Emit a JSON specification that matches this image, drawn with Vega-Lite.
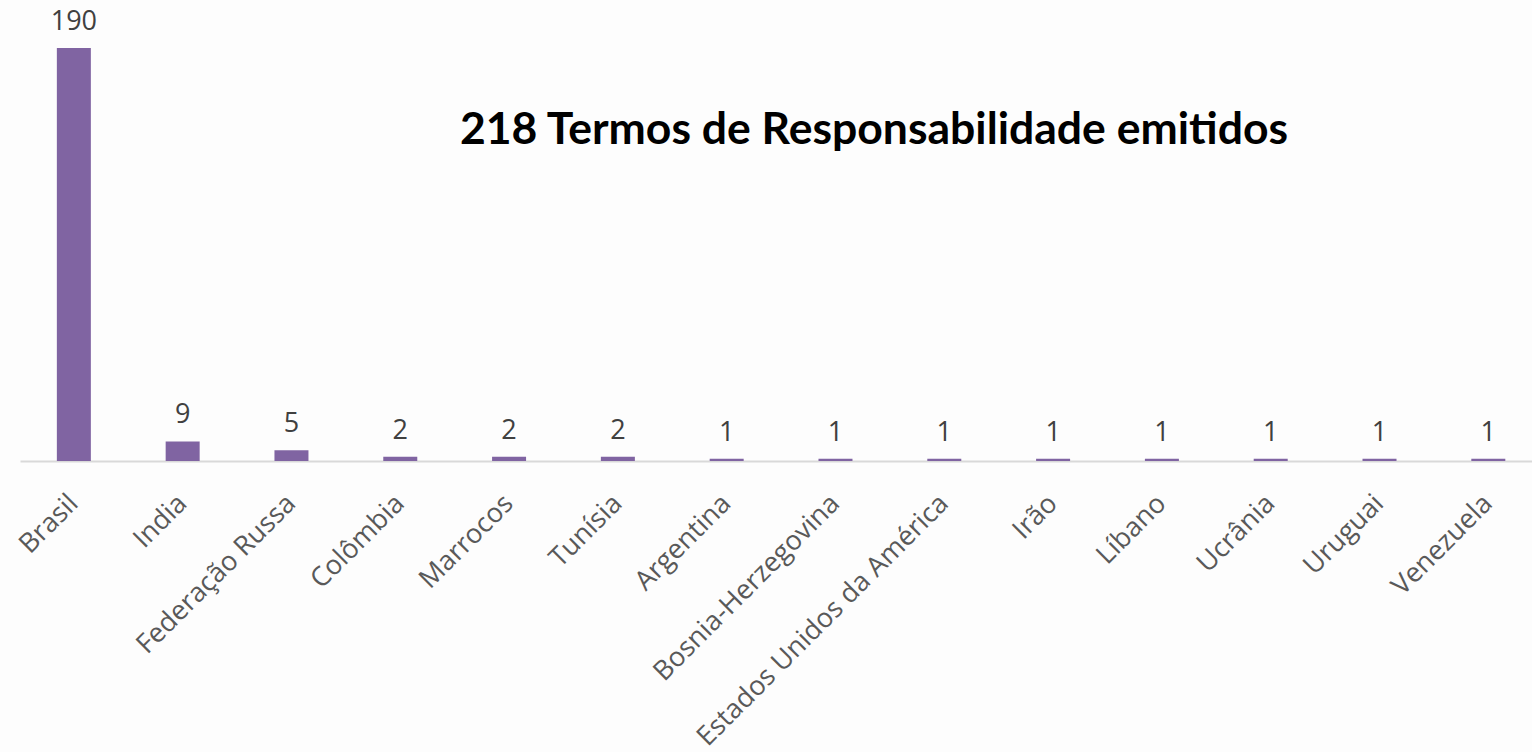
{
  "$schema": "https://vega.github.io/schema/vega-lite/v6.json",
  "width": 1512,
  "height": 413,
  "autosize": {"type": "none"},
  "padding": {"left": 20, "top": 48, "right": 0, "bottom": 291},
  "background": "#fdfdfd",
  "config": {"view": {"stroke": null}},
  "title": {
    "text": "218 Termos de Responsabilidade emitidos",
    "font": "Lato",
    "fontWeight": "bold",
    "fontSize": 44.5,
    "color": "#000000",
    "anchor": "middle",
    "frame": "group",
    "baseline": "middle",
    "offset": 0,
    "dx": 98,
    "dy": 167
  },
  "data": {
    "values": [
      {"pais": "Brasil", "n": 190},
      {"pais": "India", "n": 9},
      {"pais": "Federação Russa", "n": 5},
      {"pais": "Colômbia", "n": 2},
      {"pais": "Marrocos", "n": 2},
      {"pais": "Tunísia", "n": 2},
      {"pais": "Argentina", "n": 1},
      {"pais": "Bosnia-Herzegovina", "n": 1},
      {"pais": "Estados Unidos da América", "n": 1},
      {"pais": "Irão", "n": 1},
      {"pais": "Líbano", "n": 1},
      {"pais": "Ucrânia", "n": 1},
      {"pais": "Uruguai", "n": 1},
      {"pais": "Venezuela", "n": 1}
    ]
  },
  "encoding": {
    "x": {
      "field": "pais",
      "type": "nominal",
      "sort": null,
      "scale": {"paddingInner": 0.6875, "paddingOuter": 0.292, "align": 0.58},
      "axis": {
        "title": null,
        "labelAngle": -45,
        "labelAlign": "right",
        "labelBaseline": "middle",
        "labelFont": "Open Sans",
        "labelFontSize": 27,
        "labelColor": "#595959",
        "labelPadding": 38,
        "labelLimit": 0,
        "ticks": false,
        "domainColor": "#d9d9d9",
        "domainWidth": 2
      }
    },
    "y": {
      "field": "n",
      "type": "quantitative",
      "scale": {"domain": [0, 190], "nice": false},
      "axis": null
    }
  },
  "layer": [
    {"mark": {"type": "bar", "color": "#8064a2"}},
    {
      "mark": {
        "type": "text",
        "baseline": "alphabetic",
        "dy": -18,
        "font": "Open Sans",
        "fontSize": 27,
        "color": "#404040"
      },
      "encoding": {"text": {"field": "n", "type": "quantitative"}}
    }
  ]
}
